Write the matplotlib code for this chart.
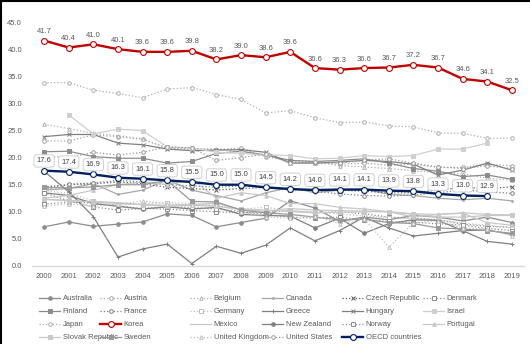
import numpy as np
import matplotlib.pyplot as plt
from matplotlib.lines import Line2D

nan = np.nan
years = list(range(2000, 2020))

korea = [41.7, 40.4, 41.0, 40.1, 39.6, 39.6, 39.8, 38.2, 39.0, 38.6,
         39.6, 36.6, 36.3, 36.6, 36.7, 37.2, 36.7, 34.6, 34.1, 32.5]
oecd = [17.6, 17.4, 16.9, 16.3, 16.1, 15.8, 15.5, 15.0, 15.0, 14.5,
        14.2, 14.0, 14.1, 14.1, 13.9, 13.8, 13.3, 13.0, 12.9, nan]

australia = [7.2, 8.1, 7.3, 7.7, 8.1, 9.6, 9.3, 7.2, 8.0, 8.8, 12.0, 10.7, 8.2, 9.0, 8.5, 9.3, 9.0, 8.3, 9.0, 8.0]
austria = [23.1, 23.1, 24.2, 23.9, 23.4, 21.8, 21.7, 21.5, 21.8, 20.2, 19.3, 19.0, 18.8, 19.0, 18.6, 18.8, 18.2, 18.2, 18.8, 18.5]
belgium = [26.2, 25.4, 24.5, 24.1, 23.5, 21.8, 21.5, 21.7, 21.0, 20.3, 19.5, 19.3, 18.5, 18.3, 18.0, 17.6, 17.2, 17.0, 16.2, 15.8]
canada = [14.0, 14.3, 15.2, 13.2, 14.0, 15.9, 14.0, 13.0, 12.0, 13.5, 14.5, 13.5, 14.0, 14.2, 13.2, 13.0, 12.5, 12.2, 12.5, 12.0]
czech = [14.6, 15.0, 15.2, 15.5, 15.2, 14.5, 14.3, 14.0, 14.3, 14.5, 14.0, 14.2, 14.0, 13.8, 13.5, 13.5, 14.0, 14.5, 14.3, 14.6]
denmark = [11.4, 11.8, 11.6, 11.0, 10.6, 10.5, 10.2, 10.0, 9.8, 9.9, 10.2, 9.8, 10.0, 9.6, 9.0, 8.8, 8.5, 7.7, 7.3, 7.1]
finland = [21.1, 21.2, 20.2, 19.9, 19.9, 19.0, 19.3, 20.8, 21.2, 20.5, 19.5, 19.3, 19.5, 19.8, 19.0, 18.0, 17.5, 16.5, 16.8, 16.0]
france = [14.1, 15.1, 15.3, 15.8, 15.5, 15.0, 14.8, 14.5, 14.8, 14.6, 14.3, 13.8, 13.3, 13.0, 12.9, 13.1, 13.5, 14.0, 13.7, 13.4]
germany = [13.9, 13.4, 12.0, 11.2, 11.5, 11.7, 11.5, 11.0, 10.5, 10.8, 10.2, 10.0, 9.6, 9.2, 8.9, 8.7, 8.5, 7.9, 7.5, 7.0]
greece = [17.5, 13.7, 9.1, 1.6, 3.1, 4.0, 0.4, 3.6, 2.3, 3.8, 7.0, 4.6, 6.5, 9.0, 7.0, 5.5, 6.0, 6.5, 4.5, 4.0]
hungary = [23.9, 24.3, 24.3, 22.7, 22.4, 21.6, 21.3, 21.4, 21.5, 21.0, 19.0, 19.0, 19.2, 19.5, 19.3, 18.8, 16.8, 17.7, 19.0, 17.7]
israel = [nan, 27.9, 24.4, 25.3, 25.0, 22.0, 21.8, 21.0, 20.8, 20.5, 20.4, 19.8, 19.9, 20.4, 20.2, 20.4, 21.6, 21.6, 22.7, nan]
japan = [33.9, 33.9, 32.5, 31.9, 31.1, 32.7, 33.0, 31.7, 30.8, 28.3, 28.7, 27.4, 26.5, 26.6, 25.9, 25.7, 24.6, 24.5, 23.6, 23.6]
mexico = [12.3, 12.1, 11.9, 11.7, 11.3, 11.2, 11.3, 11.6, 10.4, 10.1, 10.6, 10.3, 10.2, 10.1, 10.0, 9.6, 9.5, 9.8, 9.5, 9.4]
new_zealand = [13.5, 13.0, 11.5, 11.0, 10.5, 10.9, 10.5, 10.8, 9.5, 9.3, 9.2, 7.0, 8.8, 6.0, 7.8, 8.5, 8.4, 6.5, 6.6, 5.8]
norway = [13.5, 12.0, 10.9, 10.3, 10.6, 10.9, 10.8, 10.5, 10.0, 9.5, 9.0, 8.8, 9.0, 8.5, 8.2, 8.0, 7.8, 7.5, 6.9, 6.5]
portugal = [12.5, 13.0, 14.0, 15.0, 15.5, 15.0, 16.0, 12.5, 13.5, 13.0, 11.5, 11.5, 10.8, 10.5, 10.0, 9.0, 9.5, 9.7, 8.0, 7.5]
slovak = [12.3, 12.0, 11.8, 11.5, 11.3, 11.0, 11.2, 11.0, 10.5, 10.3, 10.0, 9.8, 9.9, 10.0, 10.0, 9.5, 9.0, 9.0, 9.3, 9.3]
sweden = [14.5, 14.4, 14.6, 15.0, 15.0, 15.8, 11.9, 11.8, 10.3, 9.8, 9.5, 9.0, 8.5, 8.6, 8.0, 7.8, 7.0, 6.8, 6.5, 6.0]
uk = [11.0, 11.5, 11.0, 11.4, 12.0, 11.5, 11.2, 11.3, 10.0, 9.0, 8.8, 9.2, 7.8, 8.7, 3.4, 8.0, 8.3, 7.0, 6.8, 5.5]
us = [20.3, 20.0, 21.0, 20.5, 21.0, 22.0, 21.8, 19.5, 20.0, 20.7, 19.0, 19.2, 19.0, 19.5, 19.8, 19.0, 18.3, 18.0, 18.5, 18.0]

# name, values, linestyle, marker, colour
grey = [
    ('Australia', australia, '-', 'o', '#8c8c8c'),
    ('Austria', austria, ':', 'o', '#a6a6a6'),
    ('Belgium', belgium, ':', '^', '#b0b0b0'),
    ('Canada', canada, '-', '.', '#a6a6a6'),
    ('Czech Republic', czech, ':', 'x', '#595959'),
    ('Denmark', denmark, ':', 's', '#8c8c8c'),
    ('Finland', finland, '-', 's', '#8c8c8c'),
    ('France', france, ':', 'o', '#7f7f7f'),
    ('Germany', germany, ':', 's', '#bfbfbf'),
    ('Greece', greece, '-', '+', '#7f7f7f'),
    ('Hungary', hungary, '-', 'x', '#7f7f7f'),
    ('Israel', israel, '-', 's', '#cfcfcf'),
    ('Japan', japan, ':', 'o', '#b0b0b0'),
    ('Mexico', mexico, '-', '_', '#c8c8c8'),
    ('New Zealand', new_zealand, '-', 'o', '#7f7f7f'),
    ('Norway', norway, ':', 's', '#8c8c8c'),
    ('Portugal', portugal, '-', '^', '#c8c8c8'),
    ('Slovak Republic', slovak, '-', 's', '#c8c8c8'),
    ('Sweden', sweden, '-', 's', '#999999'),
    ('United Kingdom', uk, ':', '^', '#bfbfbf'),
    ('United States', us, ':', 'o', '#999999'),
]

plt.rcParams['font.family'] = ['Liberation Sans Narrow', 'Liberation Sans', 'DejaVu Sans']
fig = plt.figure(figsize=(5.3, 3.44), dpi=100)
ax = fig.add_axes([0.060, 0.2276, 0.929, 0.7064])

handles = {}
for name, vals, ls, mk, col in grey:
    mfc = 'white' if mk in ('o', 's', '^') and ls == ':' else col
    h, = ax.plot(years, vals, ls=ls, marker=mk, color=col, lw=0.9,
                 ms=2.6, mew=0.7, mfc=mfc, mec=col, label=name)
    handles[name] = h

h, = ax.plot(years, korea, '-o', color='#c00000', lw=1.7, ms=4.2,
             mfc='white', mec='#c00000', mew=0.8, label='Korea', zorder=5)
handles['Korea'] = h
for x, v in zip(years, korea):
    ax.annotate(f'{v:.1f}', (x, v), xytext=(0, 6.5), textcoords='offset points',
                ha='center', va='center', fontsize=5.5, color='#595959')

h, = ax.plot(years, oecd, '-o', color='#002060', lw=1.7, ms=4.2,
             mfc='white', mec='#002060', mew=0.8, label='OECD countries', zorder=5)
handles['OECD countries'] = h
for x, v in zip(years, oecd):
    if np.isnan(v):
        continue
    ax.annotate(f'{v:.1f}', (x, v), xytext=(0, 7), textcoords='offset points',
                ha='center', va='center', fontsize=5.5, color='#404040', zorder=6,
                bbox=dict(boxstyle='round,pad=0.35', fc='white', ec='#d0d0d0', lw=0.7))

ax.set_xlim(1999.5, 2019.5)
ax.set_ylim(0, 45)
ax.set_xticks(years)
ax.set_yticks(np.arange(0, 46, 5))
ax.yaxis.set_major_formatter(plt.FormatStrFormatter('%.1f'))
ax.tick_params(length=0, labelsize=5.5, labelcolor='#595959')
ax.tick_params(axis='y', pad=7)
ax.tick_params(axis='x', pad=5)
for s in ['top', 'right', 'left']:
    ax.spines[s].set_visible(False)
ax.spines['bottom'].set_color('#d9d9d9')
ax.spines['bottom'].set_linewidth(1.0)

# legend laid out as six columns, read row by row
columns = [
    ['Australia', 'Finland', 'Japan', 'Slovak Republic'],
    ['Austria', 'France', 'Korea', 'Sweden'],
    ['Belgium', 'Germany', 'Mexico', 'United Kingdom'],
    ['Canada', 'Greece', 'New Zealand', 'United States'],
    ['Czech Republic', 'Hungary', 'Norway', 'OECD countries'],
    ['Denmark', 'Israel', 'Portugal'],
]
col_x = [39, 100, 190, 262, 342, 423]
for names, x in zip(columns, col_x):
    leg = fig.legend([handles[n] for n in names], names, loc='upper left',
                     bbox_to_anchor=(x / 530, 1 - 295 / 344), frameon=False,
                     fontsize=5.5, handlelength=2.8, handletextpad=0.3,
                     labelspacing=0.74, borderpad=0, borderaxespad=0, numpoints=1)
    for t in leg.get_texts():
        t.set_color('#595959')

fig.add_artist(Line2D([0, 1], [0.998, 0.998], color='black', lw=1.5))
fig.add_artist(Line2D([0.001, 0.001], [0, 1], color='black', lw=1.5))

fig.savefig('out.png', dpi=100)
